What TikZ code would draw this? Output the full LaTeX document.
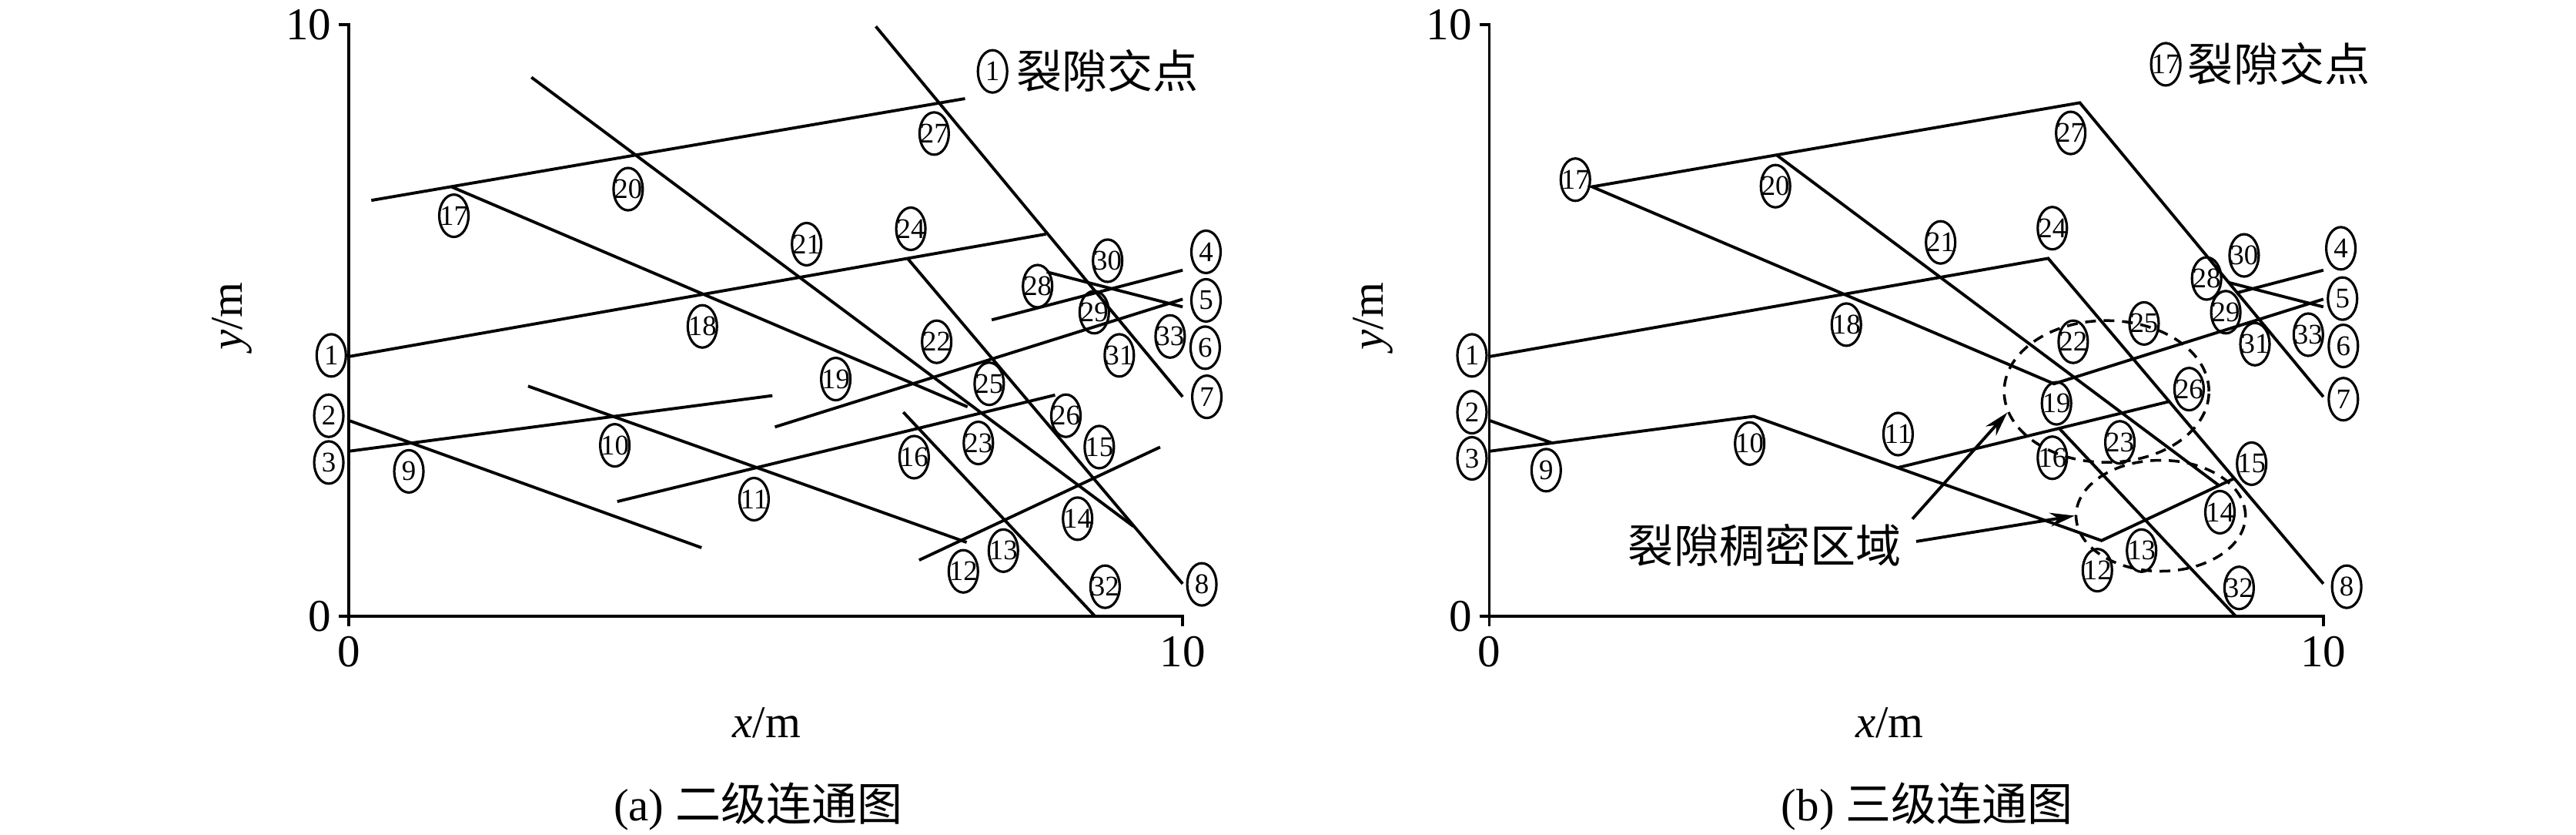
\documentclass[tikz,border=0pt]{standalone}
\usepackage{fontspec}
\setmainfont{Liberation Serif}
\newfontfamily\cjk{Noto Sans CJK SC}
\usetikzlibrary{shapes.geometric,arrows.meta}

\begin{document}
\begin{tikzpicture}[x=1.083cm,y=0.768cm,
  crack/.style={line width=1.1pt},
  axis/.style={line width=1pt},
  jd/.style={draw,ellipse,line width=0.9pt,minimum width=3.8mm,minimum height=5.5mm,inner xsep=-1mm,inner ysep=0pt,font=\fontsize{10.5}{10.5}\selectfont},
  lab/.style={inner sep=0pt,font=\fontsize{16.8}{18}\selectfont},
  zone/.style={draw,ellipse,inner sep=0pt,line width=1pt,dash pattern=on 1.4mm off 1mm},
  arr/.style={line width=1.1pt,-{Stealth[length=3.2mm,width=1.8mm]}}]

\useasboundingbox (-4.183,-3.685) rectangle (26.71,10.417);

\begin{scope}
\coordinate (aO) at (0,0);
\coordinate (aX) at (10,0);
\coordinate (aY) at (0,10);
\draw[axis] ([xshift=-1.3mm]aY) -- (aY) -- ([yshift=-1.3mm]aO);
\draw[axis] ([xshift=-1.3mm]aO) -- (aX) -- ([yshift=-1.3mm]aX);

\coordinate (f1s) at (0,4.39);     \coordinate (f1e) at (8.36,6.46);
\coordinate (f2s) at (0,3.31);     \coordinate (f2e) at (4.23,1.16);
\coordinate (f3s) at (0,2.79);     \coordinate (f3e) at (5.08,3.73);
\coordinate (f4s) at (0.27,7.03);  \coordinate (f4e) at (7.39,8.75);
\coordinate (f5s) at (1.23,7.26);  \coordinate (f5e) at (7.42,3.54);
\coordinate (f6s) at (2.19,9.11);  \coordinate (f6e) at (9.41,1.52);
\coordinate (f7s) at (6.32,9.97);  \coordinate (f7e) at (10,3.71);
\coordinate (f8s) at (6.70,6.05);  \coordinate (f8e) at (10,0.55);
\coordinate (f9s) at (6.65,3.45);  \coordinate (f9e) at (8.95,0);
\coordinate (f10s) at (3.22,1.94); \coordinate (f10e) at (8.47,3.74);
\coordinate (f11s) at (2.15,3.89); \coordinate (f11e) at (7.41,1.25);
\coordinate (f12s) at (6.84,0.95); \coordinate (f12e) at (9.73,2.86);
\coordinate (f13s) at (5.11,3.20); \coordinate (f13e) at (10,5.36);
\coordinate (f14s) at (8.37,5.82); \coordinate (f14e) at (10,5.23);
\coordinate (f15s) at (7.71,5.01); \coordinate (f15e) at (10,5.85);

\draw[crack] (f1s) -- (f1e);
\draw[crack] (f2s) -- (f2e);
\draw[crack] (f3s) -- (f3e);
\draw[crack] (f4s) -- (f4e);
\draw[crack] (f5s) -- (f5e);
\draw[crack] (f6s) -- (f6e);
\draw[crack] (f7s) -- (f7e);
\draw[crack] (f8s) -- (f8e);
\draw[crack] (f9s) -- (f9e);
\draw[crack] (f10s) -- (f10e);
\draw[crack] (f11s) -- (f11e);
\draw[crack] (f12s) -- (f12e);
\draw[crack] (f13s) -- (f13e);
\draw[crack] (f14s) -- (f14e);
\draw[crack] (f15s) -- (f15e);

\node[jd] (a1) at (-0.21,4.41) {1};
\node[jd] (a2) at (-0.24,3.39) {2};
\node[jd] (a3) at (-0.24,2.60) {3};
\node[jd] (a4) at (10.28,6.16) {4};
\node[jd] (a5) at (10.28,5.34) {5};
\node[jd] (a6) at (10.27,4.54) {6};
\node[jd] (a7) at (10.29,3.71) {7};
\node[jd] (a8) at (10.23,0.54) {8};
\node[jd] (a9) at (0.72,2.45) {9};
\node[jd] (a10) at (3.19,2.89) {10};
\node[jd] (a11) at (4.86,1.98) {11};
\node[jd] (a12) at (7.37,0.76) {12};
\node[jd] (a13) at (7.85,1.11) {13};
\node[jd] (a14) at (8.74,1.65) {14};
\node[jd] (a15) at (9.00,2.86) {15};
\node[jd] (a16) at (6.78,2.69) {16};
\node[jd] (a17) at (1.26,6.77) {17};
\node[jd] (a18) at (4.24,4.90) {18};
\node[jd] (a19) at (5.84,4.01) {19};
\node[jd] (a20) at (3.35,7.22) {20};
\node[jd] (a21) at (5.49,6.29) {21};
\node[jd] (a22) at (7.05,4.64) {22};
\node[jd] (a23) at (7.55,2.93) {23};
\node[jd] (a24) at (6.74,6.55) {24};
\node[jd] (a25) at (7.68,3.93) {25};
\node[jd] (a26) at (8.60,3.39) {26};
\node[jd] (a27) at (7.02,8.16) {27};
\node[jd] (a28) at (8.26,5.58) {28};
\node[jd] (a29) at (8.94,5.14) {29};
\node[jd] (a30) at (9.10,6.01) {30};
\node[jd] (a31) at (9.24,4.41) {31};
\node[jd] (a32) at (9.07,0.50) {32};
\node[jd] (a33) at (9.85,4.73) {33};

\node[jd] (akey) at (7.72,9.21) {1};
\node[lab,anchor=west] (akeyt) at (8.0,9.22) {\cjk 裂隙交点};

\node[lab,anchor=east] (ay10) at ([xshift=-2.2mm]aY) {10};
\node[lab,anchor=east] (ay0) at ([xshift=-2.2mm]aO) {0};
\node[lab] (ax0) at (0,-0.6) {0};
\node[lab] (ax10) at (10,-0.6) {10};
\node[lab] (axl) at (5.01,-1.80) {\textit{x}/m};
\node[lab,rotate=90] (ayl) at (-1.40,5.07) {\textit{y}/m};
\node[lab] (acap) at (4.91,-3.21) {(a) {\cjk 二级连通图}};
\end{scope}

\begin{scope}[xshift=148.15mm]
\coordinate (bO) at (0,0);
\coordinate (bX) at (10,0);
\coordinate (bY) at (0,10);
\draw[axis] ([xshift=-1.3mm]bY) -- (bY) -- ([yshift=-1.3mm]bO);
\draw[axis] ([xshift=-1.3mm]bO) -- (bX) -- ([yshift=-1.3mm]bX);

\coordinate (q1) at (0,4.39);
\coordinate (q2) at (0,3.31);
\coordinate (q3) at (0,2.79);
\coordinate (q4) at (10,5.85);
\coordinate (q5) at (10,5.36);
\coordinate (q5k) at (10,5.23);
\coordinate (q7) at (10,3.71);
\coordinate (q8) at (10,0.55);
\coordinate (q32) at (8.95,0);
\coordinate (q9) at (0.75,2.93);
\coordinate (q10) at (3.17,3.38);
\coordinate (q11) at (4.89,2.51);
\coordinate (q12) at (7.34,1.28);
\coordinate (q14) at (8.75,2.21);
\coordinate (q15) at (8.93,2.33);
\coordinate (q16) at (6.83,3.18);
\coordinate (q17) at (1.23,7.26);
\coordinate (q19) at (6.77,3.93);
\coordinate (q20) at (3.44,7.80);
\coordinate (q24) at (6.70,6.05);
\coordinate (q26) at (8.15,3.63);
\coordinate (q27) at (7.08,8.68);
\coordinate (q28) at (8.87,5.64);
\coordinate (q29) at (8.97,5.47);

\draw[crack] (q5) -- (q19) -- (q17) -- (q27) -- (q7);
\draw[crack] (q1) -- (q24) -- (q8);
\draw[crack] (q3) -- (q10) -- (q12) -- (q15);
\draw[crack] (q2) -- (q9);
\draw[crack] (q20) -- (q14);
\draw[crack] (q11) -- (q26);
\draw[crack] (q16) -- (q32);
\draw[crack] (q28) -- (q5k);
\draw[crack] (q29) -- (q4);

\node[jd] (b1) at (-0.21,4.41) {1};
\node[jd] (b2) at (-0.21,3.45) {2};
\node[jd] (b3) at (-0.21,2.67) {3};
\node[jd] (b4) at (10.21,6.22) {4};
\node[jd] (b5) at (10.23,5.37) {5};
\node[jd] (b6) at (10.24,4.57) {6};
\node[jd] (b7) at (10.24,3.67) {7};
\node[jd] (b8) at (10.28,0.50) {8};
\node[jd] (b9) at (0.68,2.47) {9};
\node[jd] (b10) at (3.12,2.92) {10};
\node[jd] (b11) at (4.90,3.08) {11};
\node[jd] (b12) at (7.29,0.78) {12};
\node[jd] (b13) at (7.82,1.11) {13};
\node[jd] (b14) at (8.76,1.76) {14};
\node[jd] (b15) at (9.14,2.58) {15};
\node[jd] (b16) at (6.75,2.68) {16};
\node[jd] (b17) at (1.03,7.38) {17};
\node[jd] (b18) at (4.28,4.93) {18};
\node[jd] (b19) at (6.80,3.60) {19};
\node[jd] (b20) at (3.43,7.27) {20};
\node[jd] (b21) at (5.41,6.32) {21};
\node[jd] (b22) at (7.00,4.64) {22};
\node[jd] (b23) at (7.56,2.94) {23};
\node[jd] (b24) at (6.75,6.56) {24};
\node[jd] (b25) at (7.85,4.95) {25};
\node[jd] (b26) at (8.39,3.84) {26};
\node[jd] (b27) at (6.97,8.17) {27};
\node[jd] (b28) at (8.60,5.71) {28};
\node[jd] (b29) at (8.83,5.14) {29};
\node[jd] (b30) at (9.05,6.10) {30};
\node[jd] (b31) at (9.18,4.60) {31};
\node[jd] (b32) at (8.99,0.48) {32};
\node[jd] (b33) at (9.82,4.76) {33};

\node[zone,minimum width=26.6mm,minimum height=18.4mm] (zoneU) at (7.40,3.80) {};
\node[zone,minimum width=22mm,minimum height=14.4mm] (zoneL) at (8.05,1.70) {};

\node[lab] (dense) at (3.30,1.20) {\cjk 裂隙稠密区域};
\draw[arr] ([xshift=1.4mm,yshift=0.6mm]dense.north east) -- (zoneU.192);
\draw[arr] ([xshift=1.9mm,yshift=0.5mm]dense.east) -- (zoneL.west);

\node[jd] (bkey) at (8.11,9.33) {17};
\node[lab,anchor=west] (bkeyt) at (8.37,9.34) {\cjk 裂隙交点};

\node[lab,anchor=east] (by10) at ([xshift=-2.2mm]bY) {10};
\node[lab,anchor=east] (by0) at ([xshift=-2.2mm]bO) {0};
\node[lab] (bx0) at (0,-0.6) {0};
\node[lab] (bx10) at (10,-0.6) {10};
\node[lab] (bxl) at (4.80,-1.80) {\textit{x}/m};
\node[lab,rotate=90] (byl) at (-1.40,5.07) {\textit{y}/m};
\node[lab] (bcap) at (5.25,-3.21) {(b) {\cjk 三级连通图}};
\end{scope}

\end{tikzpicture}
\end{document}
